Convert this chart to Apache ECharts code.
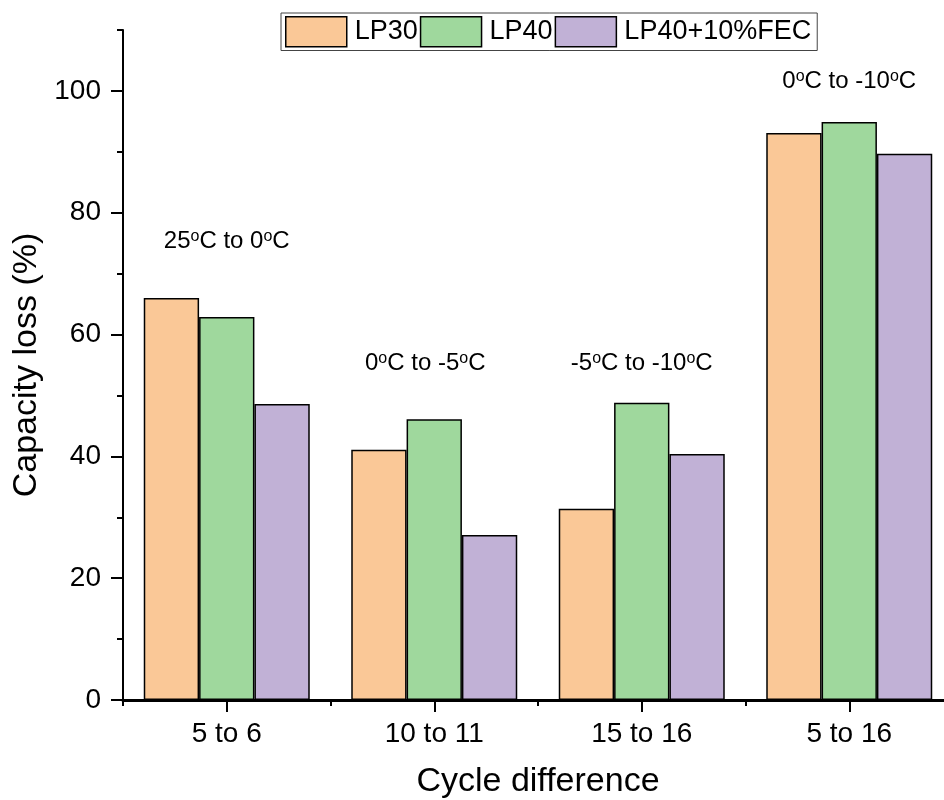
<!DOCTYPE html>
<html>
<head>
<meta charset="utf-8">
<script src="https://cdn.jsdelivr.net/npm/echarts@6/dist/echarts.min.js"></script>
<style>
  html, body { margin: 0; padding: 0; background: #fff; }
  #chart { width: 944px; height: 800px; }
</style>
</head>
<body>
<div id="chart"></div>
<script>
// Capacity loss between cycles for three electrolytes
const categories = ['5 to 6', '10 to 11', '15 to 16', '5 to 16'];
const seriesNames = ['LP30', 'LP40', 'LP40+10%FEC'];
const lp30 = [66.0, 41.1, 31.4, 93.1];
const lp40 = [62.9, 46.1, 48.8, 94.9];
const lp40fec = [48.6, 27.1, 40.4, 89.7];
const yTicks = [0, 20, 40, 60, 80, 100];

// Temperature-step notes placed above each group (category, y value, text)
const noteCats = ['5 to 6', '10 to 11', '15 to 16', '5 to 16'];
const noteY = [75.3, 55.3, 55.3, 101.6];
const noteText = [
  '25{s|o}C to 0{s|o}C',
  '0{s|o}C to -5{s|o}C',
  '-5{s|o}C to -10{s|o}C',
  '0{s|o}C to -10{s|o}C'
];

const colors = ['#FAC897', '#9FD89D', '#C1B1D6'];
const FONT = '"Liberation Sans", Arial, sans-serif';

const chart = echarts.init(document.getElementById('chart'));

const barSeries = [lp30, lp40, lp40fec].map((vals, i) => ({
  name: seriesNames[i],
  type: 'bar',
  xAxisIndex: 0,
  yAxisIndex: 0,
  data: vals,
  barGap: '0%',
  barCategoryGap: '20%',
  itemStyle: { color: colors[i], borderColor: '#000', borderWidth: 1.5 },
  emphasis: { disabled: true }
}));

const noteSeries = {
  type: 'scatter',
  xAxisIndex: 0,
  yAxisIndex: 0,
  symbolSize: 0,
  silent: true,
  itemStyle: { opacity: 1 },
  data: noteCats.map((c, i) => ({
    value: [c, noteY[i]],
    label: { offset: i === 1 ? [-9, 0] : [0, 0] }
  })),
  label: {
    show: true,
    position: 'inside',
    formatter: (p) => noteText[p.dataIndex],
    color: '#000',
    opacity: 1,
    fontFamily: FONT,
    fontSize: 24,
    lineHeight: 26,
    rich: {
      s: { fontFamily: FONT, fontSize: 16, lineHeight: 12, verticalAlign: 'top', color: '#000' }
    }
  }
};

chart.setOption({
  animation: false,
  backgroundColor: '#fff',
  textStyle: { fontFamily: FONT, color: '#000' },
  grid: { left: 123, top: 30, width: 830, height: 670, outerBoundsMode: 'none', containLabel: false },
  legend: {
    data: seriesNames,
    left: 281,
    top: 13,
    orient: 'horizontal',
    icon: 'rect',
    itemWidth: 61,
    itemHeight: 30,
    itemGap: 2,
    padding: [3, 6, 3, 4],
    borderColor: '#444',
    borderWidth: 1,
    backgroundColor: '#fff',
    itemStyle: { borderColor: '#000', borderWidth: 1.5 },
    textStyle: { fontFamily: FONT, fontSize: 27, color: '#000', padding: [0, 0, 0, 3] }
  },
  xAxis: [
    {
      type: 'category',
      data: categories,
      position: 'bottom',
      name: 'Cycle difference',
      nameLocation: 'middle',
      nameGap: 65,
      nameTextStyle: { fontFamily: FONT, fontSize: 34, color: '#000' },
      axisLine: { show: true, lineStyle: { color: '#000', width: 3 } },
      axisTick: { show: true, alignWithLabel: true, length: 12, lineStyle: { color: '#000', width: 2 } },
      axisLabel: { fontFamily: FONT, fontSize: 28, color: '#000', margin: 20 },
      splitLine: { show: false }
    },
    {
      type: 'category',
      data: categories,
      position: 'bottom',
      axisLine: { show: false },
      axisTick: { show: true, alignWithLabel: false, length: 6, lineStyle: { color: '#000', width: 2 } },
      axisLabel: { show: false },
      splitLine: { show: false }
    }
  ],
  yAxis: [
    {
      type: 'value',
      position: 'left',
      min: 0,
      max: 110,
      interval: 20,
      name: 'Capacity loss (%)',
      nameLocation: 'middle',
      nameGap: 78,
      nameTextStyle: { fontFamily: FONT, fontSize: 34, color: '#000' },
      axisLine: { show: true, lineStyle: { color: '#000', width: 2 } },
      axisTick: { show: true, length: 12, customValues: yTicks, lineStyle: { color: '#000', width: 2 } },
      axisLabel: { fontFamily: FONT, fontSize: 28, color: '#000', margin: 22, customValues: yTicks },
      splitLine: { show: false }
    },
    {
      type: 'value',
      position: 'left',
      min: 0,
      max: 110,
      interval: 10,
      axisLine: { show: false },
      axisTick: { show: true, length: 6, lineStyle: { color: '#000', width: 2 } },
      axisLabel: { show: false },
      splitLine: { show: false }
    }
  ],
  series: [...barSeries, noteSeries]
});
</script>
</body>
</html>
